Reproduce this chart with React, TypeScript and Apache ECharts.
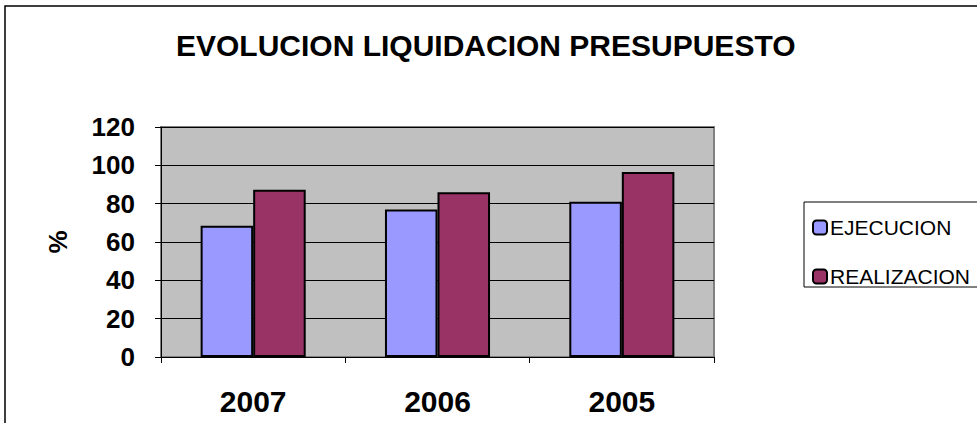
import React, { useEffect, useRef } from "react";
import * as echarts from "echarts";

const categories = ["2007", "2006", "2005"];
const ejecucion = [68.5, 77, 81];
const realizacion = [87.3, 86, 96.5];
const seriesNames = ["EJECUCION", "REALIZACION"];
const titleText = "EVOLUCION LIQUIDACION PRESUPUESTO";
const yAxisName = "%";

export default function App() {
  const ref = useRef<HTMLDivElement>(null);
  useEffect(() => {
    if (!ref.current) return;
    const chart = echarts.init(ref.current, null, { renderer: "svg" });
    const font = "Liberation Sans, Arial, sans-serif";
    chart.setOption({
      animation: false,
      backgroundColor: "#ffffff",
      title: {
        text: titleText,
        left: 171,
        top: 25,
        textStyle: { fontFamily: font, fontWeight: "bold", fontSize: 30, color: "#000" },
      },
      graphic: [
        {
          type: "rect",
          shape: { x: 5, y: 6, width: 1100, height: 600 },
          style: { fill: "none", stroke: "#000", lineWidth: 1.5 },
          silent: true,
        },
        {
          type: "rect",
          shape: { x: 804, y: 202, width: 300, height: 85 },
          style: { fill: "#fff", stroke: "#000", lineWidth: 1 },
          silent: true,
        },
      ],
      legend: {
        data: seriesNames,
        orient: "vertical",
        left: 812,
        top: 217,
        itemWidth: 14,
        itemHeight: 14,
        itemGap: 28,
        padding: 0,
        textStyle: { fontFamily: font, fontSize: 21, color: "#000", padding: [0, 0, 0, -2] },
        z: 10,
      },
      grid: {
        left: 161,
        top: 127,
        width: 553,
        height: 230,
        show: true,
        backgroundColor: "#C0C0C0",
        borderColor: "#808080",
        borderWidth: 2,
      },
      xAxis: {
        type: "category",
        data: categories,
        axisLine: { show: true, lineStyle: { color: "#000", width: 1 } },
        axisTick: { show: true, length: 6, lineStyle: { color: "#000" } },
        axisLabel: { fontFamily: font, fontWeight: "bold", fontSize: 30, color: "#000", margin: 29 },
      },
      yAxis: {
        type: "value",
        min: 0,
        max: 120,
        interval: 20,
        name: yAxisName,
        nameLocation: "middle",
        nameRotate: 90,
        nameGap: 90,
        nameTextStyle: { fontFamily: font, fontWeight: "bold", fontSize: 26, color: "#000" },
        axisLine: { show: true, lineStyle: { color: "#000", width: 1 } },
        axisTick: { show: true, length: 6, lineStyle: { color: "#000" } },
        splitLine: { show: true, lineStyle: { color: "#000", width: 1 } },
        axisLabel: { fontFamily: font, fontWeight: "bold", fontSize: 26, color: "#000", margin: 26 },
      },
      series: [
        {
          name: seriesNames[0],
          type: "bar",
          data: ejecucion,
          barGap: "0%",
          barCategoryGap: "43%",
          itemStyle: { color: "#9999FF", borderColor: "#000", borderWidth: 2 },
        },
        {
          name: seriesNames[1],
          type: "bar",
          data: realizacion,
          itemStyle: { color: "#993366", borderColor: "#000", borderWidth: 2 },
        },
      ],
    });
    return () => chart.dispose();
  }, []);
  return (
    <div
      ref={ref}
      style={{ position: "fixed", left: 0, top: 0, width: 977, height: 423 }}
    />
  );
}
